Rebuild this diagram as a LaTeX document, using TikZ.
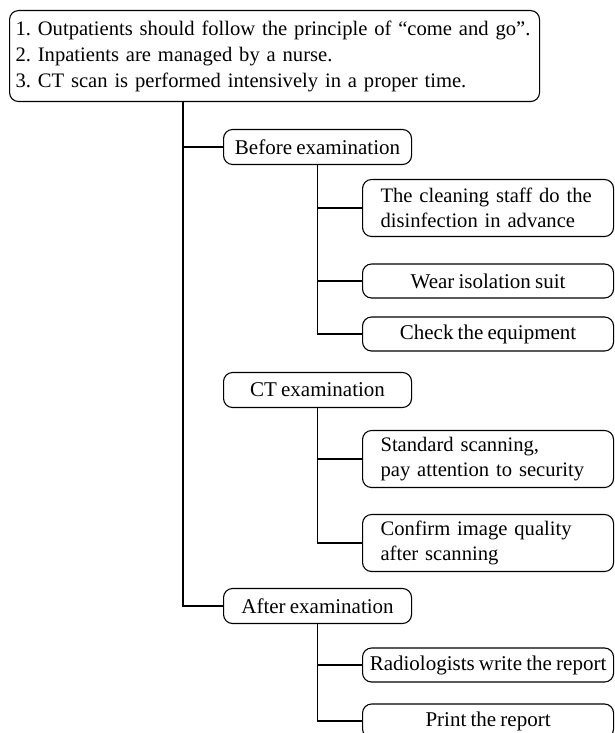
\documentclass[tikz,border=0pt]{standalone}
\usepackage{fontspec}
\setmainfont[WordSpace=0.8]{Liberation Serif}
\begin{document}
\frenchspacing
\begin{tikzpicture}[x=1pt,y=-1pt,
  every node/.style={font=\fontsize{21}{26}\selectfont},
  box/.style={draw, line width=1.1pt, rounded corners=9pt, inner ysep=0pt},
  lvtwo/.style={box, anchor=west, minimum width=188pt, minimum height=35pt, inner xsep=0pt, align=center},
  lvthree/.style={box, anchor=west, minimum width=251pt, minimum height=34pt, inner xsep=0pt, align=center},
  lvthreeleft/.style={box, anchor=west, minimum height=57pt, inner xsep=18pt, text width=215pt, align=left, font=\fontsize{20.6}{25.5}\selectfont},
  conn/.style={line width=1.1pt}]
\useasboundingbox (0,0) rectangle (614,733);
\node[box, anchor=north west, minimum width=530pt, minimum height=91pt, inner xsep=6pt, text width=518pt, align=left, font=\fontsize{20.6}{26}\selectfont] (top) at (9,10)
  {\mbox{1. Outpatients should follow the principle of “come and go”.}\\\mbox{2. Inpatients are managed by a nurse.}\\\mbox{3. CT scan is performed intensively in a proper time.}};
\node[lvtwo] (before) at (223,147) {Before examination};
\node[lvthreeleft] (clean) at (362,208) {\mbox{The cleaning staff do the}\\\mbox{disinfection in advance}};
\node[lvthree] (wear) at (362,281) {Wear isolation suit};
\node[lvthree] (check) at (362,334) {Check the equipment};
\node[lvtwo] (ct) at (223,390) {CT examination};
\node[lvthreeleft] (scan) at (362,459) {\mbox{Standard scanning,}\\\mbox{pay attention to security}};
\node[lvthreeleft] (confirm) at (362,543) {\mbox{Confirm image quality}\\\mbox{after scanning}};
\node[lvtwo] (after) at (223,606) {After examination};
\node[lvthree] (radio) at (362,665) {Radiologists write the report};
\node[lvthree] (print) at (362,721) {Print the report};
\coordinate (trunk) at (top.south -| 183,0);
\draw[conn] (trunk) |- (before.west);
\draw[conn] (trunk) |- (after.west);
\draw[conn] (before.south) |- (clean.west);
\draw[conn] (before.south) |- (wear.west);
\draw[conn] (before.south) |- (check.west);
\draw[conn] (ct.south) |- (scan.west);
\draw[conn] (ct.south) |- (confirm.west);
\draw[conn] (after.south) |- (radio.west);
\draw[conn] (after.south) |- (print.west);
\end{tikzpicture}
\end{document}
